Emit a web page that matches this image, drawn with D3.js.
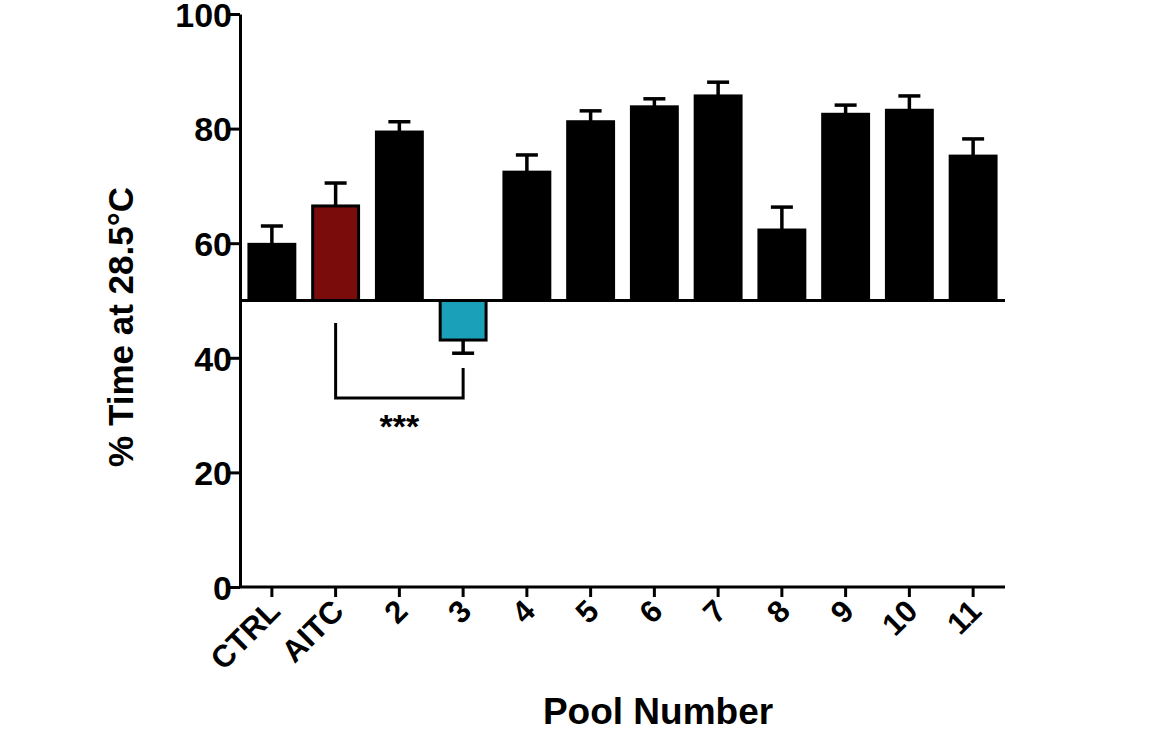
<!DOCTYPE html><html><head><meta charset="utf-8">
<script src="https://cdn.jsdelivr.net/npm/d3@7"></script>
<style>body{margin:0;background:#fff}text{font-family:"Liberation Sans",Arial,sans-serif;font-weight:bold}</style>
</head><body><svg id="c" width="1168" height="731"></svg>
<script>
const categories=["CTRL","AITC","2","3","4","5","6","7","8","9","10","11"];
const values=[59.8,66.5,79.4,43.1,72.4,81.2,83.8,85.7,62.3,82.5,83.2,75.2];
const errors=[3.2,4.0,1.8,2.3,3.0,1.9,1.4,2.4,4.0,1.6,2.5,3.0];
const colors=["#000","#7b0c0c","#000","#1aa0b8","#000","#000","#000","#000","#000","#000","#000","#000"];
const yTicks=[0,20,40,60,80,100];
const baseline=50;
const svg=d3.select("#c");
const x=d3.scaleBand().domain(categories).range([240,1005]).paddingInner(0.28).paddingOuter(0.14);
const y=d3.scaleLinear().domain([0,100]).range([587,14]);
const bw=x.bandwidth();
categories.forEach((c,i)=>{
  const v=values[i],e=errors[i],cx=x(c)+bw/2;
  const tip=v>=baseline?v+e:v-e;
  svg.append("line").attr("x1",cx).attr("x2",cx).attr("y1",y(v)).attr("y2",y(tip)).attr("stroke","#000").attr("stroke-width",3.5);
  svg.append("line").attr("x1",cx-11).attr("x2",cx+11).attr("y1",y(tip)).attr("y2",y(tip)).attr("stroke","#000").attr("stroke-width",3.5);
  svg.append("rect").attr("x",x(c)).attr("width",bw).attr("y",y(Math.max(v,baseline))).attr("height",Math.abs(y(v)-y(baseline)))
    .attr("fill",colors[i]).attr("stroke","#000").attr("stroke-width",3);
});
svg.append("line").attr("x1",240).attr("x2",1005).attr("y1",y(baseline)).attr("y2",y(baseline)).attr("stroke","#000").attr("stroke-width",3);
const ya=svg.append("g").attr("transform","translate(240,0)").call(d3.axisLeft(y).tickValues(yTicks).tickSize(10).tickSizeOuter(0));
ya.select(".domain").attr("stroke-width",3);
ya.selectAll(".tick line").attr("stroke-width",3);
ya.selectAll("text").attr("font-size",34).attr("x",-8).attr("dy","0.36em").style("font-family","Liberation Sans, Arial").style("font-weight","bold");
const xa=svg.append("g").attr("transform","translate(0,587)").call(d3.axisBottom(x).tickSize(10).tickSizeOuter(0));
xa.select(".domain").attr("d","M240,0H1005").attr("stroke-width",3);
xa.selectAll(".tick line").attr("stroke-width",3);
xa.selectAll("text").attr("font-size",31).attr("text-anchor","end").attr("dy",0).attr("y",0)
  .attr("transform","translate(10,26) rotate(-45)").style("font-family","Liberation Sans, Arial").style("font-weight","bold");
svg.append("text").attr("transform","translate(133,327) rotate(-90)").attr("text-anchor","middle").attr("font-size",35).text("% Time at 28.5°C");
svg.append("text").attr("x",658).attr("y",724).attr("text-anchor","middle").attr("font-size",37).text("Pool Number");
const a=x("AITC")+bw/2,b=x("3")+bw/2;
svg.append("path").attr("d",`M${a},323V398H${b}V368`).attr("fill","none").attr("stroke","#000").attr("stroke-width",3);
svg.append("text").attr("x",(a+b)/2).attr("y",438).attr("text-anchor","middle").attr("font-size",34).text("***");
</script></body></html>
